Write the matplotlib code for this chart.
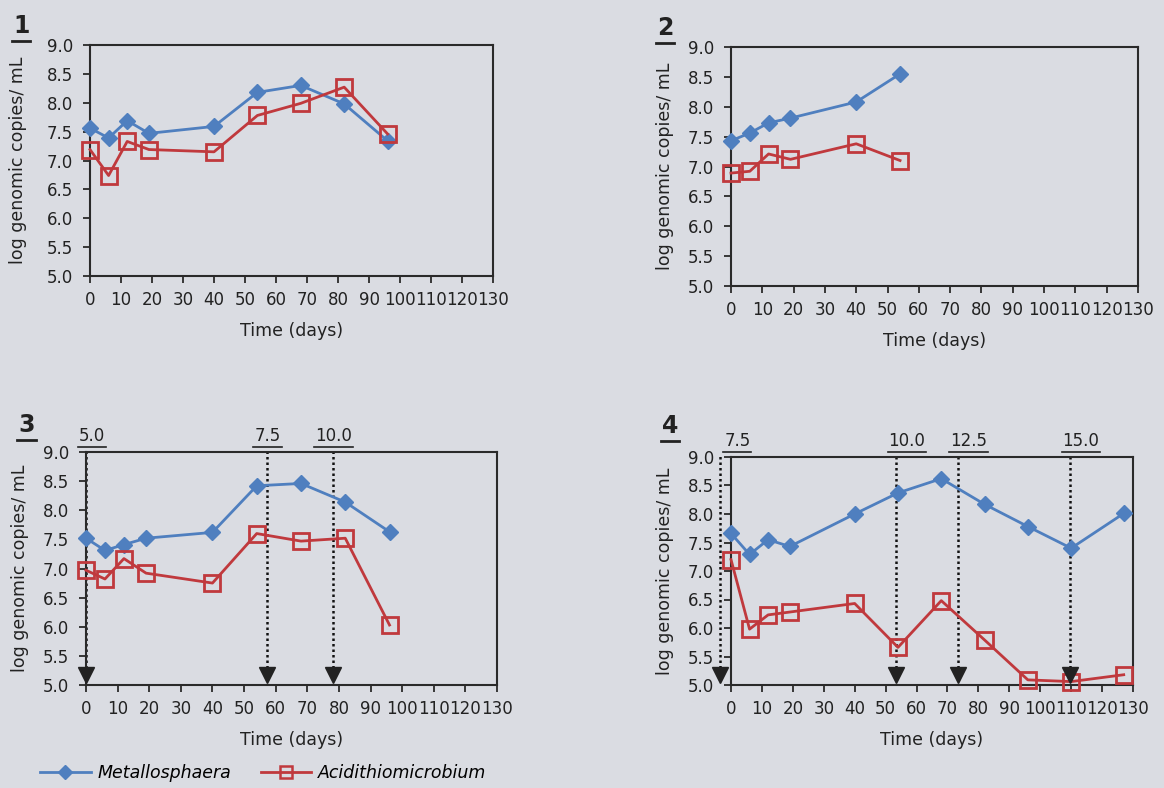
import matplotlib
matplotlib.use("Agg")
import matplotlib.pyplot as plt
from matplotlib.lines import Line2D
from matplotlib.ticker import FormatStrFormatter

# ---- data -------------------------------------------------------------
days1 = [0, 6, 12, 19, 40, 54, 68, 82, 96]
metallo1 = [7.56, 7.39, 7.69, 7.47, 7.59, 8.18, 8.30, 7.98, 7.34]
acidi1 = [7.19, 6.74, 7.33, 7.19, 7.15, 7.78, 7.99, 8.27, 7.46]

days2 = [0, 6, 12, 19, 40, 54]
metallo2 = [7.43, 7.56, 7.73, 7.81, 8.08, 8.55]
acidi2 = [6.89, 6.92, 7.21, 7.12, 7.38, 7.10]

days3 = [0, 6, 12, 19, 40, 54, 68, 82, 96]
metallo3 = [7.52, 7.31, 7.41, 7.52, 7.62, 8.42, 8.46, 8.14, 7.63]
acidi3 = [6.97, 6.82, 7.17, 6.92, 6.75, 7.60, 7.47, 7.52, 6.03]

days4 = [0, 6, 12, 19, 40, 54, 68, 82, 96, 110, 127]
metallo4 = [7.66, 7.29, 7.55, 7.43, 8.00, 8.37, 8.62, 8.17, 7.78, 7.40, 8.01]
acidi4 = [7.20, 5.98, 6.23, 6.28, 6.43, 5.66, 6.48, 5.79, 5.09, 5.06, 5.18]

# times at which the feed concentration was raised, with the new value
dose3_days = [0, 57.4, 78.2]
dose3_labels = ["5.0", "7.5", "10.0"]
dose4_days = [-3.4, 53.4, 73.3, 109.7]
dose4_labels = ["7.5", "10.0", "12.5", "15.0"]

xticks = list(range(0, 131, 10))
yticks = [5.0, 5.5, 6.0, 6.5, 7.0, 7.5, 8.0, 8.5, 9.0]
series_names = ["Metallosphaera", "Acidithiomicrobium"]
panel_names = ["1", "2", "3", "4"]

# ---- style ------------------------------------------------------------
W, H = 1164, 788
BG = "#dadce2"
BLUE = "#4f7fbf"
RED = "#c0393d"
INK = "#2a2a2a"
TXT = "#222222"
plt.rcParams["font.family"] = ["DejaVu Sans"]
plt.rcParams["font.size"] = 12

fig = plt.figure(figsize=(W / 100, H / 100), dpi=100, facecolor=BG)


def px_axes(x0, y0, x1, y1):
    return fig.add_axes([x0 / W, 1 - y1 / H, (x1 - x0) / W, (y1 - y0) / H])


def style_axes(ax, ypad):
    ax.set_facecolor(BG)
    ax.set_xlim(0, 130)
    ax.set_ylim(5.0, 9.0)
    ax.set_xticks(xticks)
    ax.set_yticks(yticks)
    ax.yaxis.set_major_formatter(FormatStrFormatter("%.1f"))
    for s in ax.spines.values():
        s.set_color(INK)
        s.set_linewidth(1.5)
    ax.tick_params(axis="both", colors=INK, labelcolor=TXT,
                   labelsize=12, width=1.3, length=5, direction="out")
    ax.tick_params(axis="y", pad=7)
    ax.tick_params(axis="x", pad=6)
    ax.set_xlabel("Time (days)", fontsize=12.5, labelpad=9, color=TXT)
    ax.set_ylabel("log genomic copies/ mL", fontsize=12.5, labelpad=ypad,
                  color=TXT)


def draw_series(ax, days, m, a):
    ax.plot(days, m, color=BLUE, lw=2, marker="D", ms=8.5, mfc=BLUE,
            mec=BLUE, clip_on=False, zorder=3)
    ax.plot(days, a, color=RED, lw=2, marker="s", ms=11, mfc="none",
            mec=RED, mew=2, clip_on=False, zorder=4)


axes = [
    px_axes(90, 45, 493, 276),
    px_axes(731, 47, 1138, 286),
    px_axes(86, 452, 497, 685),
    px_axes(731, 457, 1133, 685),
]
ylabel_pads = [14.5, 10, 10, 10]
data = [(days1, metallo1, acidi1), (days2, metallo2, acidi2),
        (days3, metallo3, acidi3), (days4, metallo4, acidi4)]
for ax, pad, (d, m, a) in zip(axes, ylabel_pads, data):
    style_axes(ax, pad)
    draw_series(ax, d, m, a)

underlined = []


def dose_marks(ax, days, labels, label_shift):
    for i, (x, lab) in enumerate(zip(days, labels)):
        ax.plot([x, x], [5.3, 9.04], color="#111111", lw=1.8,
                ls=(0, (1, 1.2)), clip_on=False, zorder=2)
        ax.plot([x], [5.17], marker="v", ms=12, color=TXT,
                clip_on=False, zorder=5, ls="none")
        if i == 0:
            xpos, ha = -2.2, "left"
        else:
            xpos, ha = x + label_shift, "center"
        t = ax.annotate(lab, xy=(xpos, 1), xycoords=("data", "axes fraction"),
                        xytext=(0, 8), textcoords="offset points",
                        ha=ha, va="baseline", fontsize=12, color=TXT,
                        annotation_clip=False)
        underlined.append((t, 1.2, 2.5))


dose_marks(axes[2], dose3_days, dose3_labels, 0.0)
dose_marks(axes[3], dose4_days, dose4_labels, 3.5)

# panel numbers
panel_pos = [(13, 33), (657, 35), (18, 432), (662, 433)]
for name, (px, py) in zip(panel_names, panel_pos):
    t = fig.text(px / W, 1 - py / H, name, fontsize=17, fontweight="bold",
                 color=TXT, ha="left", va="baseline")
    underlined.append((t, 2.0, 3.0))

# legend
handles = [
    Line2D([], [], color=BLUE, lw=2, marker="D", ms=7, mfc=BLUE, mec=BLUE),
    Line2D([], [], color=RED, lw=2, marker="s", ms=9, mfc="none", mec=RED,
           mew=1.8),
]
fig.legend(handles, series_names, loc="center left",
           bbox_to_anchor=(28 / W, 1 - 773 / H), ncol=2, frameon=False,
           handlelength=2.9, columnspacing=1.7, handletextpad=0.4,
           borderpad=0.2, prop={"style": "italic", "size": 12.5})

# underline the dose values and panel numbers
fig.canvas.draw()
renderer = fig.canvas.get_renderer()
inv = fig.transFigure.inverted()
for t, lw, drop in underlined:
    bb = t.get_window_extent(renderer)
    _, _, descent = renderer.get_text_width_height_descent(
        t.get_text(), t.get_fontproperties(), ismath=False)
    y = bb.y0 + descent - drop
    (fx0, fy), (fx1, _) = inv.transform([(bb.x0 - 1, y), (bb.x1 + 1, y)])
    fig.add_artist(Line2D([fx0, fx1], [fy, fy], transform=fig.transFigure,
                          color=TXT, lw=lw))

fig.savefig("out.png", dpi=100, facecolor=BG)
